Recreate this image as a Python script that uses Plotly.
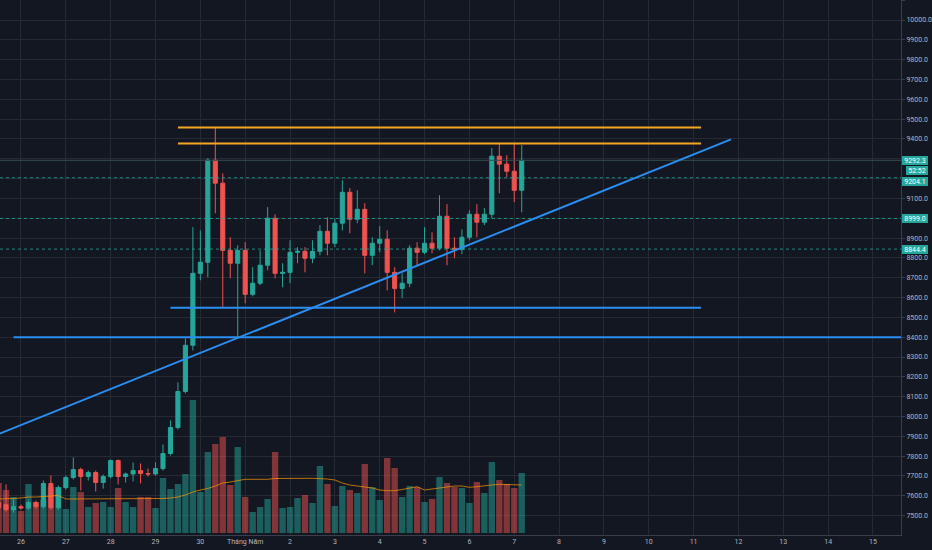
import pandas as pd
import plotly.graph_objects as go

# BTC/USD 4h candles, 25 Apr - 7 May 2020
times = pd.date_range("2020-04-25 12:00", periods=71, freq="4h")

open_ = [7566, 7555, 7530, 7545, 7538, 7566, 7545, 7662, 7540, 7641, 7692, 7732,
         7697, 7717, 7667, 7697, 7778, 7697, 7710, 7727, 7712, 7710, 7737, 7813,
         7944, 8126, 8359, 8722, 8778, 9293, 9177, 8838, 8773, 8838, 8616, 8672,
         8763, 9000, 8722, 8727, 8828, 8833, 8798, 8833, 8934, 8874, 8975, 9131,
         8995, 9045, 8813, 8874, 8894, 8727, 8646, 8672, 8849, 8828, 8874, 8849,
         9010, 8849, 8843, 8904, 9020, 8980, 9020, 9313, 9273, 9237, 9141]
high = [7590, 7657, 7586, 7556, 7576, 7576, 7677, 7702, 7652, 7702, 7793, 7742,
        7727, 7727, 7707, 7783, 7783, 7717, 7768, 7763, 7737, 7768, 7859, 7980,
        8172, 8394, 8955, 8939, 9303, 9455, 9227, 8904, 8864, 8879, 8753, 8838,
        9056, 9020, 8773, 8889, 8854, 8854, 8889, 8965, 9005, 9000, 9192, 9152,
        9141, 9076, 8904, 8960, 8939, 8753, 8722, 8864, 8879, 8955, 8929, 9116,
        9071, 8904, 8944, 9040, 9071, 9051, 9354, 9379, 9318, 9379, 9369]
low = [7520, 7520, 7515, 7530, 7530, 7535, 7535, 7530, 7530, 7631, 7682, 7626,
       7677, 7621, 7636, 7687, 7657, 7667, 7672, 7662, 7697, 7702, 7727, 7803,
       7934, 8116, 8333, 8687, 8702, 9025, 8551, 8697, 8399, 8571, 8606, 8662,
       8737, 8697, 8652, 8672, 8773, 8727, 8773, 8813, 8813, 8854, 8939, 8924,
       8975, 8722, 8763, 8828, 8636, 8525, 8596, 8652, 8763, 8818, 8823, 8838,
       8763, 8798, 8818, 8889, 8904, 8965, 9000, 9126, 9207, 9081, 9030]
close = [7540, 7530, 7545, 7538, 7566, 7545, 7662, 7540, 7641, 7692, 7732, 7697,
         7717, 7667, 7697, 7778, 7697, 7710, 7727, 7712, 7710, 7737, 7813, 7944,
         8126, 8359, 8722, 8778, 9293, 9177, 8838, 8773, 8838, 8616, 8672, 8763,
         9000, 8722, 8727, 8828, 8833, 8798, 8833, 8934, 8874, 8975, 9131, 8995,
         9045, 8813, 8874, 8894, 8727, 8646, 8672, 8849, 8828, 8874, 8849, 9010,
         8849, 8843, 8904, 9020, 8980, 9020, 9313, 9273, 9237, 9141, 9292.3]

# volume in arbitrary units (bar height as read), plus its 20 bar average
volume = [50, 43, 36, 22, 49, 31, 33, 46, 46, 24, 46, 41, 26, 30, 31, 26, 45, 31,
          26, 36, 36, 25, 55, 44, 49, 59, 133, 41, 81, 89, 96, 48, 86, 36, 21, 26,
          34, 81, 25, 26, 35, 38, 30, 67, 49, 27, 47, 43, 40, 69, 46, 33, 75, 65,
          36, 47, 46, 31, 34, 56, 50, 46, 45, 30, 51, 40, 71, 53, 49, 45, 60]
volume_ma = [34, 34, 34.5, 35, 36, 36, 36.5, 37, 37.5, 34, 34, 34, 34, 34, 34, 34,
             34, 34, 34, 34, 34, 34, 34.5, 35, 36, 38, 41, 43, 44.5, 47, 50, 51,
             52.5, 53.7, 53.7, 53.7, 53.7, 54.5, 54.7, 54.7, 54.7, 54.7, 54.7, 54.7,
             54, 53, 50, 48, 47.3, 46, 45, 43, 42.3, 42.3, 43.5, 44.7, 46.3, 43, 44,
             44.7, 46.3, 47, 47, 45.7, 46.3, 47.5, 48, 48.7, 48.5, 48, 48]

day_ticks = pd.date_range("2020-04-26", "2020-05-15", freq="D")
day_labels = ["26", "27", "28", "29", "30", "Tháng Năm", "2", "3", "4", "5", "6",
              "7", "8", "9", "10", "11", "12", "13", "14", "15"]

# price scale; the labels under the price tags are left blank
price_ticks = list(range(7500, 10200, 100))
hidden_ticks = [9000, 9200, 9300]
price_labels = ["" if p in hidden_ticks else f"{p:.1f}" for p in price_ticks]

# drawn levels
resistance_top = 9458
resistance_low = 9377
support_mid = 8549
support_low = 8399
trend_from = ("2020-04-25 12:00", 7911)
trend_to = ("2020-05-11 20:00", 9398)

last_price = 9292.3
marker_prices = [9204.1, 8999.0, 8844.4]
countdown = "52:52"

UP = "#26a69a"
DOWN = "#ef5350"
BG = "#131722"
GRID = "#262a35"
TEXT = "#b2b5be"
AXIS = "#3a3e4a"
ORANGE = "#f5a623"
BLUE = "#2a8ff0"
FONT = "Roboto"
FSIZE = 7

vol_colors = ["rgba(38,166,154,0.5)" if c >= o else "rgba(239,83,80,0.5)"
              for o, c in zip(open_, close)]

fig = go.Figure()
fig.add_trace(go.Bar(x=times, y=volume, marker_color=vol_colors,
                     marker_line_width=0, yaxis="y2"))
fig.add_trace(go.Scatter(x=times, y=volume_ma, mode="lines", yaxis="y2",
                         line=dict(color="rgba(255,152,0,0.7)", width=1)))
fig.add_trace(go.Candlestick(
    x=times, open=open_, high=high, low=low, close=close, whiskerwidth=0,
    increasing=dict(line=dict(color=UP, width=1), fillcolor=UP),
    decreasing=dict(line=dict(color=DOWN, width=1), fillcolor=DOWN)))


def level(x0, x1, y0, y1, color, width=2, dash="solid", xref="x"):
    return dict(type="line", xref=xref, yref="y", x0=x0, x1=x1, y0=y0, y1=y1,
                line=dict(color=color, width=width, dash=dash))


def price_tag(y, text, xshift=1, yshift=0, width=25):
    return dict(xref="paper", x=1, xanchor="left", xshift=xshift,
                yref="y", y=y, yshift=yshift, text=text, showarrow=False,
                bgcolor=UP, borderpad=0.5, borderwidth=0, width=width,
                font=dict(family=FONT, size=FSIZE, color="white"))


shapes = [
    level(0, 1, last_price, last_price, "#34504f", 1, xref="paper"),
]
for p in marker_prices:
    shapes.append(level(0, 1, p, p, "rgba(38,166,154,0.8)", 1, "dot", xref="paper"))
shapes += [
    level("2020-04-29 12:00", "2020-05-11 04:00", resistance_top, resistance_top, ORANGE),
    level("2020-04-29 12:00", "2020-05-11 04:00", resistance_low, resistance_low, ORANGE),
    level("2020-04-29 08:00", "2020-05-11 04:00", support_mid, support_mid, BLUE),
    level("2020-04-25 20:00", "2020-05-17 00:00", support_low, support_low, BLUE),
    level(trend_from[0], trend_to[0], trend_from[1], trend_to[1], BLUE),
]

# countdown sits just under the last price, the next tag is nudged below it
annotations = [
    price_tag(last_price, f"{last_price:.1f}"),
    price_tag(9240, countdown, xshift=5, width=21),
    price_tag(marker_prices[0], f"{marker_prices[0]:.1f}", yshift=-3.5),
    price_tag(marker_prices[1], f"{marker_prices[1]:.1f}"),
    price_tag(marker_prices[2], f"{marker_prices[2]:.1f}"),
]

fig.update_layout(
    width=932, height=550,
    margin=dict(l=0, r=31, t=0, b=15, pad=0),
    paper_bgcolor=BG, plot_bgcolor=BG,
    showlegend=False, hovermode=False,
    bargap=0.15, boxgap=0.22,
    font=dict(family=FONT, size=FSIZE, color=TEXT),
    shapes=shapes, annotations=annotations,
    xaxis=dict(type="date", range=["2020-04-25 12:46", "2020-05-15 15:00"],
               tickvals=day_ticks, ticktext=day_labels, showgrid=True,
               gridcolor=GRID, gridwidth=1, zeroline=False, showline=True,
               linecolor=AXIS, ticks="", rangeslider=dict(visible=False),
               automargin=False, tickfont=dict(size=FSIZE, color=TEXT)),
    yaxis=dict(side="right", range=[7402, 10101], tickvals=price_ticks,
               ticktext=price_labels, showgrid=True, gridcolor=GRID,
               zeroline=False, showline=True, linecolor=AXIS, ticks="outside",
               ticklen=3, tickcolor=AXIS, automargin=False,
               tickfont=dict(size=FSIZE, color=TEXT)),
    yaxis2=dict(overlaying="y", range=[-2, 533], visible=False),
)

# the page body has a default 8px margin, drop it so the chart fills the window
fig.write_html("out.html", config={"displayModeBar": False},
               post_script="document.body.style.margin='0';")
